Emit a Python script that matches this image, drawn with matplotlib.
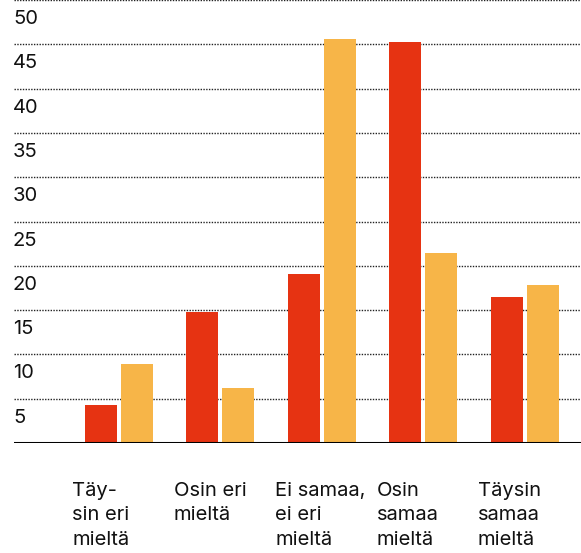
import matplotlib
matplotlib.use("Agg")
import numpy as np
import matplotlib.pyplot as plt
from matplotlib.transforms import offset_copy

categories = ["Täy-\nsin eri\nmieltä", "Osin eri\nmieltä", "Ei samaa,\nei eri\nmieltä",
              "Osin\nsamaa\nmieltä", "Täysin\nsamaa\nmieltä"]
red_vals = [4.3, 14.8, 19.1, 45.3, 16.5]
yellow_vals = [8.9, 6.2, 45.6, 21.4, 17.8]
yticks = [5, 10, 15, 20, 25, 30, 35, 40, 45, 50]

RED = "#e63312"
YELLOW = "#f7b548"

plt.rcParams['font.family'] = ['Inter', 'DejaVu Sans']

fig = plt.figure(figsize=(5.81, 5.53), dpi=100)
ax = fig.add_axes([14/581, 110/553, 567/581, 443/553])

x = np.arange(len(categories))
w = 0.315
ax.bar(x - 0.178, red_vals, width=w, color=RED, zorder=3)
ax.bar(x + 0.178, yellow_vals, width=w, color=YELLOW, zorder=3)

ax.set_xlim(-1.035, 4.556)
ax.set_ylim(0, 50)

for v in yticks:
    ax.axhline(v, color="#222222", linestyle=(0, (1, 1)), linewidth=1.0, zorder=1)
ax.axhline(0, color="black", linewidth=2.2, zorder=4)

tr = offset_copy(ax.get_yaxis_transform(), fig=fig, x=-1, y=-19, units='dots')
for v in yticks:
    ax.text(0, v, str(v), transform=tr, ha='left', va='center', fontsize=14.5, color="#111111")

for i, lab in enumerate(categories):
    ax.text(i - 0.46, -0.088, lab, transform=ax.get_xaxis_transform(), ha='left', va='top',
            fontsize=14.5, color="#111111", linespacing=1.45)

for s in ax.spines.values():
    s.set_visible(False)
ax.set_xticks([])
ax.set_yticks([])

fig.savefig("out.png", dpi=100)
